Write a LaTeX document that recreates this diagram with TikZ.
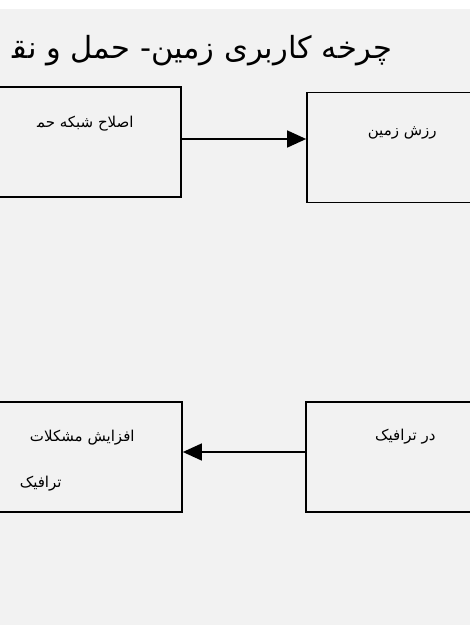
\documentclass[tikz,border=0pt]{standalone}
\usepackage{fontspec}
\newfontfamily\fafont[Script=Arabic]{DejaVu Sans}
\TeXXeTstate=1
\usetikzlibrary{arrows.meta,positioning}
\definecolor{slidegray}{HTML}{F2F2F2}

\begin{document}
\begin{tikzpicture}[x=1pt, y=-1pt, thick]

	\tikzstyle{stage}=[rectangle, draw=black, line width=1.7pt, fill=slidegray, inner sep=0pt, minimum width=250pt, minimum height=110pt]
	\tikzstyle{lbl}=[anchor=east, inner sep=0pt, text=black, font=\fafont\fontsize{15}{18}\selectfont]
	\tikzstyle{flow}=[-{Triangle[length=19pt,width=17pt]}, line width=1.4pt, black]

	\useasboundingbox (0,0) rectangle (470,625);
	\clip (0,0) rectangle (470,625);
	\fill[slidegray] (0,0) rectangle (470,625);
	\fill[white] (0,0) rectangle (470,9);

	% title
	\node[lbl, font=\fafont\fontsize{30.5}{36}\selectfont] (title) at (393,51) {\beginR چرخه کاربری زمین- حمل و نق^^^^200d\endR};

	% cycle stages
	\node[stage] (net) at (56,142)  {};
	\node[stage] (val) at (432,147.5) {};
	\node[stage] (trf) at (57,457)  {};
	\node[stage] (dem) at (431,457) {};

	\node[lbl] (netL)  at (134,124) {\beginR اصلاح شبکه حم^^^^200d\endR};
	\node[lbl] (valL)  at (437,133) {\beginR رزش زمین\endR};
	\node[lbl] (trfL1) at (135,438) {\beginR افزایش مشکلات\endR};
	\node[lbl] (trfL2) at (62,484)  {\beginR ترافیک\endR};
	\node[lbl] (demL)  at (436,437) {\beginR در ترافیک\endR};

	% links between stages
	\draw[flow] ([yshift=3pt]net.east) -- ([yshift=3pt]net.east -| val.west);
	\draw[flow] ([yshift=5pt]dem.west) -- ([yshift=5pt]dem.west -| trf.east);

\end{tikzpicture}
\end{document}
